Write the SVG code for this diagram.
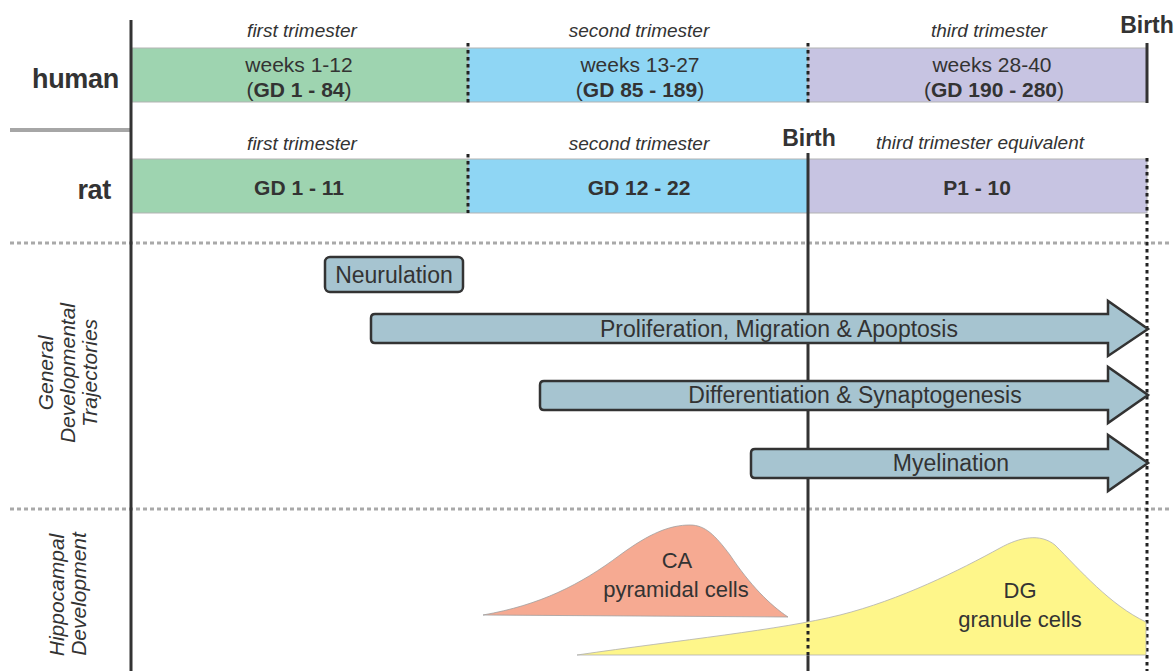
<svg xmlns="http://www.w3.org/2000/svg" width="1176" height="671" viewBox="0 0 1176 671">
<style>
text{font-family:"Liberation Sans",Arial,sans-serif;fill:#333}
.tri{font-size:19px;font-style:italic;text-anchor:middle}
.wk{font-size:21px;text-anchor:middle}
.b{font-weight:bold}
.sp{font-size:27px;font-weight:bold;text-anchor:end;letter-spacing:-0.3px}
.birth{font-size:23px;font-weight:bold;text-anchor:middle}
.arr{fill:#a6c4d0;stroke:#333;stroke-width:2.5;stroke-linejoin:miter}
.arrt{font-size:23px;text-anchor:middle}
.side{font-size:21px;font-style:italic;text-anchor:middle}
.bar{stroke:#b3b3b3;stroke-width:1}
.dot{stroke:#222;stroke-width:3;stroke-dasharray:3.5 3.5;fill:none}
.solid{stroke:#333;stroke-width:3;fill:none}
.gdash{stroke:#a9a9a9;stroke-width:3;stroke-dasharray:4 3;fill:none}
.cell{font-size:22px;text-anchor:middle}
</style>
<g id="guides">
<line class="gdash" x1="10" y1="243" x2="1172" y2="243"/>
<line class="gdash" x1="10" y1="509" x2="1172" y2="509"/>
<line x1="10" y1="130" x2="131" y2="130" stroke="#a6a6a6" stroke-width="4"/>
</g>
<g id="human-row">
<text class="sp" x="119" y="88">human</text>
<g id="h-first">
<rect class="bar" x="132" y="48" width="336" height="54" fill="#9ed4b0"/>
<text class="tri" x="302" y="37">first trimester</text>
<text class="wk" x="299" y="72">weeks 1-12</text>
<text class="wk" x="299" y="97">(<tspan class="b">GD 1 - 84</tspan>)</text>
</g>
<g id="h-second">
<rect class="bar" x="468" y="48" width="340" height="54" fill="#8fd6f4"/>
<text class="tri" x="639" y="37">second trimester</text>
<text class="wk" x="640" y="72">weeks 13-27</text>
<text class="wk" x="640" y="97">(<tspan class="b">GD 85 - 189</tspan>)</text>
</g>
<g id="h-third">
<rect class="bar" x="808" y="48" width="339" height="54" fill="#c7c4e2"/>
<text class="tri" x="989" y="37">third trimester</text>
<text class="wk" x="992" y="72">weeks 28-40</text>
<text class="wk" x="994" y="97">(<tspan class="b">GD 190 - 280</tspan>)</text>
</g>
<line class="dot" x1="468" y1="43" x2="468" y2="103"/>
<line class="dot" x1="808" y1="43" x2="808" y2="103"/>
<line class="solid" x1="1147" y1="43" x2="1147" y2="103"/>
<text class="birth" x="1147" y="33">Birth</text>
</g>
<g id="rat-row">
<text class="sp" x="111" y="199">rat</text>
<g id="r-first">
<rect class="bar" x="132" y="159" width="336" height="54" fill="#9ed4b0"/>
<text class="tri" x="302" y="150">first trimester</text>
<text class="wk b" x="299" y="195">GD 1 - 11</text>
</g>
<g id="r-second">
<rect class="bar" x="468" y="159" width="340" height="54" fill="#8fd6f4"/>
<text class="tri" x="639" y="150">second trimester</text>
<text class="wk b" x="639" y="195">GD 12 - 22</text>
</g>
<g id="r-third">
<rect class="bar" x="808" y="159" width="339" height="54" fill="#c7c4e2"/>
<text class="tri" x="980" y="149">third trimester equivalent</text>
<text class="wk b" x="977" y="195">P1 - 10</text>
</g>
<line class="dot" x1="468" y1="154" x2="468" y2="213"/>
<text class="birth" x="809" y="146">Birth</text>
</g>
<g id="axis-lines">
<line class="solid" x1="131" y1="20" x2="131" y2="671"/>
<line class="solid" x1="808" y1="153" x2="808" y2="624"/>
<line class="dot" x1="808" y1="624" x2="808" y2="655"/>
<line class="solid" x1="808" y1="655" x2="808" y2="671"/>
<line class="dot" x1="1147" y1="158" x2="1147" y2="671"/>
</g>
<g id="side-labels">
<text class="side" transform="translate(53,373) rotate(-90)">General</text>
<text class="side" transform="translate(75,373) rotate(-90)">Developmental</text>
<text class="side" transform="translate(97,373) rotate(-90)">Trajectories</text>
<text class="side" transform="translate(64,595) rotate(-90)">Hippocampal</text>
<text class="side" transform="translate(86,594) rotate(-90)">Development</text>
</g>
<g id="neurulation">
<rect class="arr" x="325" y="257" width="138" height="35" rx="5"/>
<text class="arrt" x="394" y="283">Neurulation</text>
</g>
<g id="proliferation">
<path class="arr" d="M375,314 H1108 V301 L1148,329 L1108,356 V343 H375 Q371,343 371,339 V318 Q371,314 375,314 Z"/>
<text class="arrt" x="779" y="337">Proliferation, Migration &amp; Apoptosis</text>
</g>
<g id="differentiation">
<path class="arr" d="M544,381 H1108 V367 L1148,395 L1108,423 V410 H544 Q540,410 540,406 V385 Q540,381 544,381 Z"/>
<text class="arrt" x="855" y="403">Differentiation &amp; Synaptogenesis</text>
</g>
<g id="myelination">
<path class="arr" d="M755,449 H1108 V435 L1148,463 L1108,491 V478 H755 Q751,478 751,474 V453 Q751,449 755,449 Z"/>
<text class="arrt" x="951" y="471">Myelination</text>
</g>
<g id="ca-cells">
<path d="M483,615 C540,605 580,585 620,555 C650,533 670,525 690,525 C705,525 715,535 730,555 C750,585 770,605 788,617 Z" fill="#f6aa92" stroke="#a0a0a0" stroke-width="0.8"/>
<text class="cell" x="677" y="568">CA</text>
<text class="cell" x="676" y="597">pyramidal cells</text>
</g>
<g id="dg-cells">
<path d="M577,655 C680,640 780,630 840,615 C900,600 960,570 1000,548 C1020,537 1040,533 1055,545 C1080,570 1110,605 1146,622 L1146,655 Z" fill="#fef68a" stroke="#b0b0b0" stroke-width="0.8"/>
<line class="dot" x1="808" y1="624" x2="808" y2="655"/>
<text class="cell" x="1020" y="598">DG</text>
<text class="cell" x="1020" y="627">granule cells</text>
</g>
</svg>
